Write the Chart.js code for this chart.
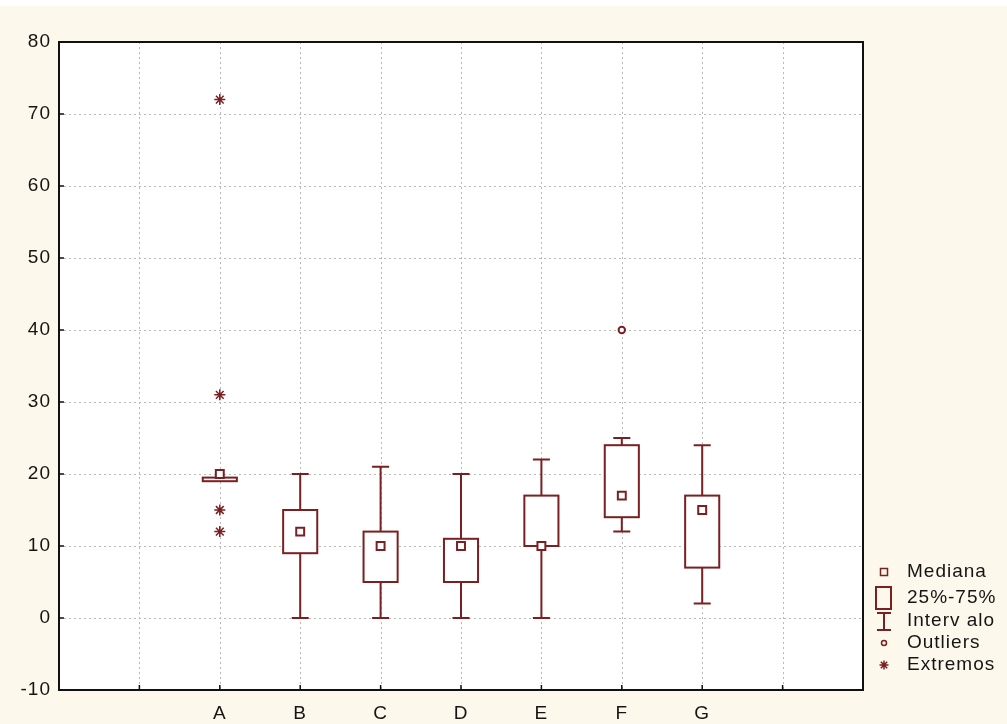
<!DOCTYPE html>
<html>
<head>
<meta charset="utf-8">
<script src="https://cdn.jsdelivr.net/npm/chart.js@4/dist/chart.umd.min.js"></script>
<style>
  html, body { margin: 0; padding: 0; background: #fdf8ec; }
  #wrap { width: 1007px; height: 724px; position: relative; }
</style>
</head>
<body>
<div id="wrap"><canvas id="c" width="1007" height="724"></canvas></div>
<script>
// Categories and box-plot statistics
const categories   = ['A', 'B', 'C', 'D', 'E', 'F', 'G'];
const medians      = [20, 12, 10, 10, 10, 17, 15];
const q1           = [19, 9, 5, 5, 10, 14, 7];
const q3           = [19.5, 15, 12, 11, 17, 24, 17];
const whiskerLow   = [null, 0, 0, 0, 0, 12, 2];
const whiskerHigh  = [null, 20, 21, 20, 22, 25, 24];
// Points beyond the whiskers: [category, value]
const outliers     = [['F', 40]];
const extremes     = [['A', 72], ['A', 31], ['A', 15], ['A', 12]];
// Axis ticks
const yTicks       = [-10, 0, 10, 20, 30, 40, 50, 60, 70, 80];
const xSlots       = 10;           // category slots along the x axis
const firstSlot    = 2;            // position of the first category

const MAROON = '#7a1f22';
const GRID   = '#b9b9b9';
const FONT   = "'Liberation Sans', Arial, sans-serif";
const SPACING = '1px';

const xOf = (cat) => categories.indexOf(cat) + firstSlot;

const boxPlugin = {
  id: 'boxes',
  beforeDraw(chart) {
    const { ctx, chartArea: a } = chart;
    ctx.save();
    ctx.fillStyle = '#fdf8ec';
    ctx.fillRect(0, 0, chart.width, chart.height);
    ctx.fillStyle = '#ffffff';
    ctx.fillRect(0, 0, chart.width, 6);
    ctx.fillRect(a.left, a.top, a.right - a.left, a.bottom - a.top);
    ctx.restore();
    // slightly wide lettering for the axis labels
    ctx.letterSpacing = SPACING;
  },
  beforeDatasetsDraw(chart) {
    const { ctx, chartArea: a, scales: { x, y } } = chart;
    ctx.save();
    // dotted grid
    ctx.strokeStyle = GRID;
    ctx.lineWidth = 1;
    ctx.setLineDash([2, 3]);
    for (let i = 1; i < xSlots; i++) {
      const px = Math.round(x.getPixelForValue(i)) + 0.5;
      ctx.beginPath(); ctx.moveTo(px, a.top); ctx.lineTo(px, a.bottom); ctx.stroke();
    }
    yTicks.slice(1, -1).forEach(v => {
      const py = Math.round(y.getPixelForValue(v)) + 0.5;
      ctx.beginPath(); ctx.moveTo(a.left, py); ctx.lineTo(a.right, py); ctx.stroke();
    });
    ctx.setLineDash([]);
    // boxes and whiskers
    const halfBox = (x.getPixelForValue(1) - x.getPixelForValue(0)) * 0.212;
    const halfCap = halfBox * 0.5;
    ctx.strokeStyle = MAROON;
    ctx.lineWidth = 2;
    categories.forEach((cat, i) => {
      const cx = x.getPixelForValue(xOf(cat));
      const yq1 = y.getPixelForValue(q1[i]);
      const yq3 = y.getPixelForValue(q3[i]);
      if (whiskerLow[i] !== null) {
        const yl = y.getPixelForValue(whiskerLow[i]);
        const yh = y.getPixelForValue(whiskerHigh[i]);
        ctx.beginPath();
        ctx.moveTo(cx, yq1); ctx.lineTo(cx, yl);
        ctx.moveTo(cx - halfCap, yl); ctx.lineTo(cx + halfCap, yl);
        ctx.moveTo(cx, yq3); ctx.lineTo(cx, yh);
        ctx.moveTo(cx - halfCap, yh); ctx.lineTo(cx + halfCap, yh);
        ctx.stroke();
      }
      ctx.fillStyle = '#ffffff';
      ctx.fillRect(cx - halfBox, yq3, halfBox * 2, yq1 - yq3);
      ctx.strokeRect(cx - halfBox, yq3, halfBox * 2, yq1 - yq3);
    });
    ctx.restore();
  },
  afterDraw(chart) {
    const { ctx, chartArea: a, scales: { x, y } } = chart;
    ctx.save();
    // frame
    ctx.strokeStyle = '#111';
    ctx.lineWidth = 2;
    ctx.strokeRect(a.left, a.top, a.right - a.left, a.bottom - a.top);
    // inner tick marks
    ctx.lineWidth = 1.5;
    ctx.beginPath();
    yTicks.forEach(v => {
      const py = y.getPixelForValue(v);
      ctx.moveTo(a.left, py); ctx.lineTo(a.left + 5, py);
    });
    for (let i = 1; i < xSlots; i++) {
      const px = x.getPixelForValue(i);
      ctx.moveTo(px, a.bottom); ctx.lineTo(px, a.bottom - 5);
    }
    ctx.stroke();

    // legend
    const lx = 884, ys = [572, 598, 621, 643, 665], tx = 907;
    ctx.strokeStyle = MAROON;
    ctx.fillStyle = '#ffffff';
    ctx.lineWidth = 1.5;
    ctx.strokeRect(lx - 3.5, ys[0] - 3.5, 7, 7);
    ctx.lineWidth = 2;
    ctx.strokeRect(lx - 8, ys[1] - 11, 15, 22);
    ctx.beginPath();
    ctx.moveTo(lx - 7, ys[2] - 8); ctx.lineTo(lx + 7, ys[2] - 8);
    ctx.moveTo(lx, ys[2] - 8); ctx.lineTo(lx, ys[2] + 9);
    ctx.moveTo(lx - 7, ys[2] + 9); ctx.lineTo(lx + 7, ys[2] + 9);
    ctx.stroke();
    ctx.lineWidth = 1.5;
    ctx.beginPath(); ctx.arc(lx, ys[3], 2.5, 0, Math.PI * 2); ctx.stroke();
    ctx.beginPath();
    const r = 4.5;
    for (let k = 0; k < 4; k++) {
      const ang = k * Math.PI / 4;
      ctx.moveTo(lx - r * Math.cos(ang), ys[4] - r * Math.sin(ang));
      ctx.lineTo(lx + r * Math.cos(ang), ys[4] + r * Math.sin(ang));
    }
    ctx.stroke();
    ctx.fillStyle = '#151515';
    ctx.font = '19px ' + FONT;
    ctx.letterSpacing = SPACING;
    ctx.textBaseline = 'middle';
    ['Mediana', '25%-75%', 'Interv alo', 'Outliers', 'Extremos'].forEach((t, k) => {
      ctx.fillText(t, tx, ys[k]);
    });
    ctx.restore();
  }
};

Chart.defaults.font.family = FONT;
Chart.defaults.font.size = 19;
Chart.defaults.color = '#151515';

new Chart(document.getElementById('c'), {
  type: 'scatter',
  data: {
    datasets: [
      {
        label: 'Mediana',
        data: categories.map((c, i) => ({ x: xOf(c), y: medians[i] })),
        pointStyle: 'rect', pointRadius: 5.6, pointHoverRadius: 5.6,
        backgroundColor: '#ffffff', borderColor: MAROON, borderWidth: 2
      },
      {
        label: 'Outliers',
        data: outliers.map(([c, v]) => ({ x: xOf(c), y: v })),
        pointStyle: 'circle', pointRadius: 3.2, pointHoverRadius: 3.2,
        backgroundColor: '#ffffff', borderColor: MAROON, borderWidth: 2
      },
      {
        label: 'Extremos',
        data: extremes.map(([c, v]) => ({ x: xOf(c), y: v })),
        pointStyle: 'star', pointRadius: 5.5, pointHoverRadius: 5.5,
        backgroundColor: MAROON, borderColor: MAROON, borderWidth: 1.5
      }
    ]
  },
  options: {
    responsive: false,
    animation: false,
    events: [],
    layout: { padding: { top: 42, right: 144, left: 0, bottom: 0 } },
    plugins: { legend: { display: false }, tooltip: { enabled: false } },
    scales: {
      x: {
        type: 'linear', min: 0, max: xSlots,
        grid: { display: false, drawTicks: false },
        border: { display: false },
        afterFit: (s) => { s.height = 34; },
        ticks: {
          stepSize: 1, autoSkip: false, maxRotation: 0, padding: 12,
          callback: (v) => categories[v - firstSlot] ?? ''
        }
      },
      y: {
        min: yTicks[0], max: yTicks[yTicks.length - 1],
        grid: { display: false, drawTicks: false },
        border: { display: false },
        afterFit: (s) => { s.width = 59; },
        afterBuildTicks: (s) => { s.ticks = yTicks.map(v => ({ value: v })); },
        ticks: { padding: 8 }
      }
    }
  },
  plugins: [boxPlugin]
});
</script>
</body>
</html>
